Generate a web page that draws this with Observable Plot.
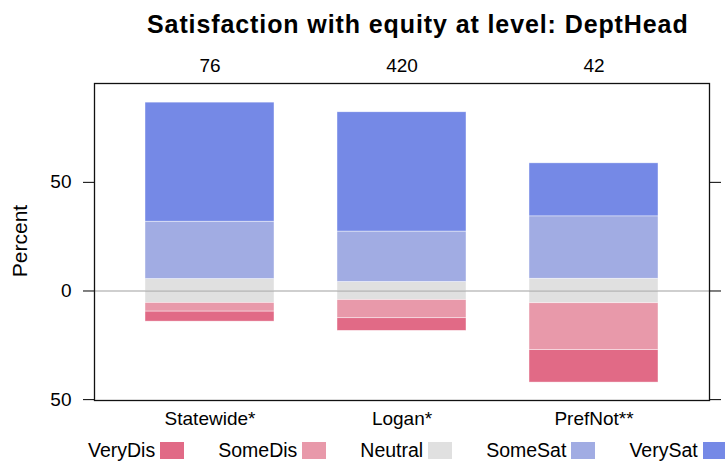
<!DOCTYPE html>
<html>
<head>
<meta charset="utf-8">
<script src="https://cdn.jsdelivr.net/npm/d3@7"></script>
<script src="https://cdn.jsdelivr.net/npm/@observablehq/plot@0.6"></script>
<style>
  html, body { margin: 0; padding: 0; background: #fff; }
  #wrap { position: relative; width: 725px; height: 464px; font-family: "Liberation Sans", Arial, Helvetica, sans-serif; color: #000; }
  #title { position: absolute; left: 0; top: 12px; width: 725px; font-size: 25px; letter-spacing: 0.9px; font-weight: bold; line-height: 25px; white-space: nowrap; }
  #title span { position: absolute; left: 147px; }
  #ylabel { position: absolute; left: 19px; top: 241px; font-size: 21px; line-height: 21px; white-space: nowrap; transform: translate(-50%, -50%) rotate(-90deg); }
  #legend { position: absolute; left: 88px; top: 441px; height: 18px; display: flex; align-items: center; font-size: 19.5px; white-space: nowrap; }
  .item { display: flex; align-items: center; margin-right: 34px; }
  .sw { width: 24px; height: 17px; margin-left: 5px; }
  #chart { position: absolute; left: 0; top: 0; }
</style>
</head>
<body>
<div id="wrap">
  <div id="chart"></div>
  <div id="title"><span>Satisfaction with equity at level: DeptHead</span></div>
  <div id="ylabel">Percent</div>
  <div id="legend"></div>
</div>
<script>
const groups = ["Statewide*", "Logan*", "PrefNot**"];
const counts = [76, 420, 42];
const categories = ["VeryDis", "SomeDis", "Neutral", "SomeSat", "VerySat"];
const colors = ["#E16A86", "#E899AA", "#E0E0E0", "#A1ACE3", "#7589E6"];
const veryDis = [4.6, 5.8, 14.9];
const someDis = [4.0, 8.4, 21.6];
const neutral = [11.0, 8.3, 11.3];
const someSat = [26.4, 23.2, 28.7];
const verySat = [54.8, 54.9, 24.4];
const yTicks = [-50, 0, 50];

// diverging stack: negatives stacked from zero outward, positives likewise
const rows = [];
groups.forEach((g, i) => {
  rows.push({group: g, category: "Neutral", value: -neutral[i] / 2});
  rows.push({group: g, category: "SomeDis", value: -someDis[i]});
  rows.push({group: g, category: "VeryDis", value: -veryDis[i]});
  rows.push({group: g, category: "Neutral", value: neutral[i] / 2});
  rows.push({group: g, category: "SomeSat", value: someSat[i]});
  rows.push({group: g, category: "VerySat", value: verySat[i]});
});
const countOf = new Map(groups.map((g, i) => [g, counts[i]]));

const chart = Plot.plot({
  width: 725,
  height: 464,
  marginTop: 83,
  marginBottom: 64,
  marginLeft: 94,
  marginRight: 16,
  style: {fontSize: "19px", fontFamily: "'Liberation Sans', Arial, Helvetica, sans-serif", color: "#000", background: "transparent"},
  x: {type: "band", domain: groups, paddingInner: 0.327, paddingOuter: 0.265},
  y: {domain: [-50.4, 95.5]},
  color: {domain: categories, range: colors},
  marks: [
    Plot.barY(rows, Plot.stackY({x: "group", y: "value", fill: "category", stroke: "white", strokeWidth: 0.6, strokeOpacity: 0.7, order: null})),
    Plot.ruleY([0], {stroke: "#a0a0a0", strokeWidth: 1.2}),
    Plot.frame({stroke: "#111", strokeWidth: 1.3}),
    Plot.axisY({anchor: "left", ticks: yTicks, tickFormat: d => Math.abs(d), tickSize: 11, tickPadding: 12, label: null}),
    Plot.axisY({anchor: "right", ticks: yTicks, tickSize: 11, tickFormat: () => "", label: null}),
    Plot.axisX({anchor: "bottom", tickSize: 0, tickPadding: 11, label: null}),
    Plot.axisX({anchor: "top", tickSize: 0, tickPadding: 12, tickFormat: d => countOf.get(d), label: null})
  ]
});
document.getElementById("chart").appendChild(chart);

const legend = document.getElementById("legend");
categories.forEach((c, i) => {
  const item = document.createElement("div");
  item.className = "item";
  const t = document.createElement("span");
  t.textContent = c;
  const s = document.createElement("div");
  s.className = "sw";
  s.style.background = colors[i];
  item.appendChild(t);
  item.appendChild(s);
  legend.appendChild(item);
});
</script>
</body>
</html>
